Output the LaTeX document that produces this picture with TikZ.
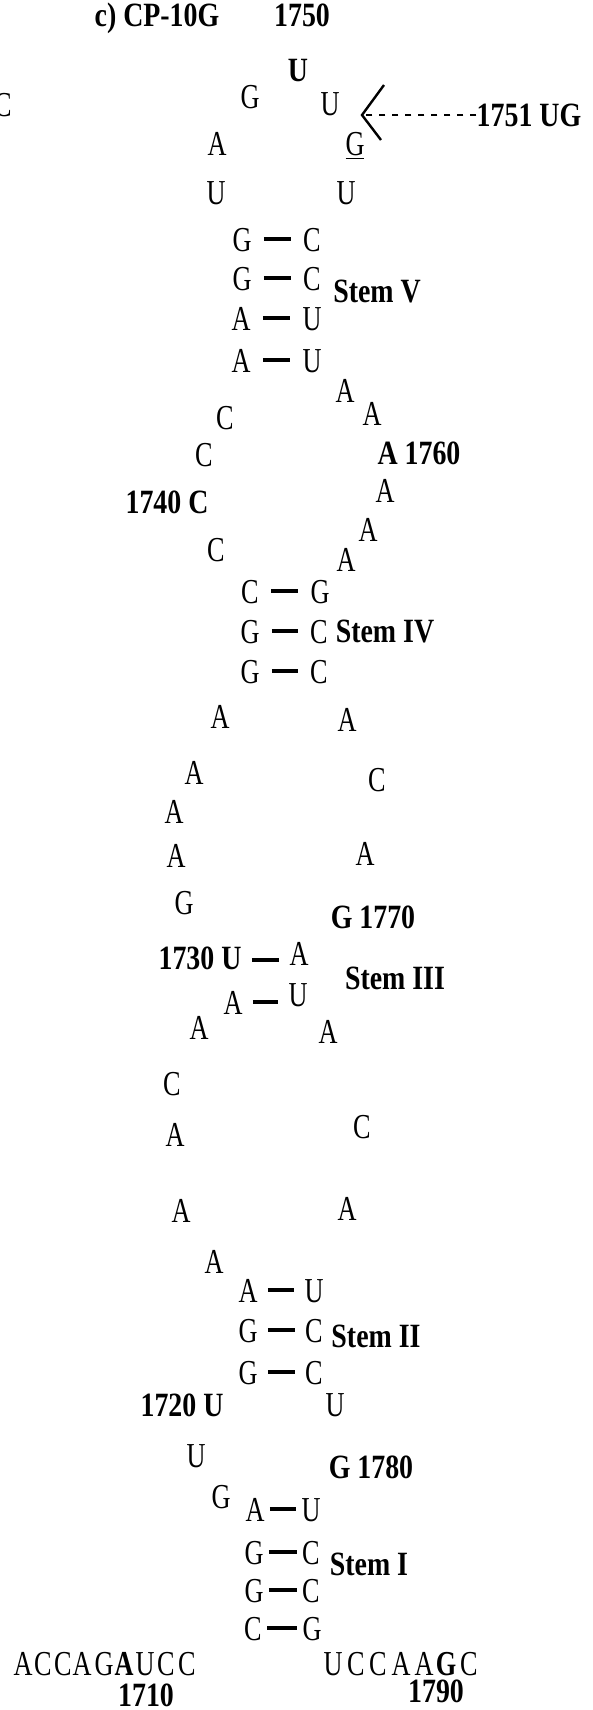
\documentclass[tikz,border=0pt]{standalone}
\usepackage{fontspec}
\setmainfont{Liberation Serif}[FakeStretch=0.75]
\newfontfamily\labfont{Liberation Serif}[FakeStretch=0.82]
\usetikzlibrary{positioning}
\tikzset{nt/.style={inner sep=0pt, text height=12pt, text depth=0pt,
    font=\fontsize{17.5}{20}\selectfont}}
\tikzset{lbl/.style={inner sep=0pt, text height=11.5pt, text depth=0pt,
    font=\labfont\bfseries\fontsize{17}{20}\selectfont}}
\tikzset{pair/.style={line width=2.4pt, shorten <=#1, shorten >=#1}}
\tikzset{chev/.style={line width=1.2pt}}
\tikzset{dashline/.style={line width=1.4pt, dash pattern=on 3pt off 3.5pt}}

\begin{document}
\begin{tikzpicture}[x=0.5pt, y=-0.5pt]
  \useasboundingbox (0,0) rectangle (593,1710);
  % title and loop of stem V
  \node[lbl] (title) at (157,15) {c) CP-10G};
  \node[lbl] (n1750) at (302,15) {1750};
  \node[lbl] (u1750) at (298,70) {U};
  \node[nt] (lp1) at (250,96) {G};
  \node[nt] (lp2) at (330,103) {U};
  \node[nt] (cut) at (3,104) {C};
  \node[nt] (lp3) at (217,143) {A};
  \node[nt] (g1751) at (355,143) {\underline{G}};
  \node[nt] (lp4) at (216,192) {U};
  \node[nt] (lp5) at (346,192) {U};
  \node[lbl] (n1751) at (529,115) {1751 UG};
  \coordinate (tip) at (362,115);
  \draw[dashline] (n1751.west) -- (tip);
  \draw[chev] (384,85) -- (tip) -- (381,140);
  % stem V
  \node[nt] (v1a) at (242,239) {G};  \node[nt] (v1b) at (312,239) {C};
  \node[nt] (v2a) at (242,278) {G};  \node[nt] (v2b) at (312,278) {C};
  \node[nt] (v3a) at (241,318) {A};  \node[nt] (v3b) at (312,318) {U};
  \node[nt] (v4a) at (241,360) {A};  \node[nt] (v4b) at (312,360) {U};
  \node[lbl] (stemV) at (377,291) {Stem V};
  % internal loop between stem IV and V
  \node[nt] (r1) at (345,390) {A};
  \node[nt] (r2) at (372,413) {A};
  \node[lbl] (n1760) at (419,453) {A 1760};
  \node[nt] (r3) at (385,490) {A};
  \node[nt] (r4) at (368,529) {A};
  \node[nt] (r5) at (346,559) {A};
  \node[nt] (l1) at (225,417) {C};
  \node[nt] (l2) at (204,454) {C};
  \node[lbl] (n1740) at (167,502) {1740 C};
  \node[nt] (l3) at (216,549) {C};
  % stem IV
  \node[nt] (iv1a) at (250,591) {C};  \node[nt] (iv1b) at (320,591) {G};
  \node[nt] (iv2a) at (250,631) {G};  \node[nt] (iv2b) at (319,631) {C};
  \node[nt] (iv3a) at (250,671) {G};  \node[nt] (iv3b) at (319,671) {C};
  \node[lbl] (stemIV) at (385,631) {Stem IV};
  % internal loop between stem III and IV
  \node[nt] (l4) at (220,716) {A};
  \node[nt] (l5) at (194,772) {A};
  \node[nt] (l6) at (174,811) {A};
  \node[nt] (l7) at (176,855) {A};
  \node[nt] (l8) at (184,902) {G};
  \node[nt] (r6) at (347,719) {A};
  \node[nt] (r7) at (377,779) {C};
  \node[nt] (r8) at (365,853) {A};
  \node[lbl] (n1770) at (373,917) {G 1770};
  % stem III
  \node[lbl] (n1730) at (200,958) {1730 U};  \node[nt] (iii1b) at (299,953) {A};
  \node[nt] (iii2a) at (233,1002) {A};        \node[nt] (iii2b) at (298,994) {U};
  \node[lbl] (stemIII) at (395,978) {Stem III};
  % internal loop between stem II and III
  \node[nt] (l9) at (199,1027) {A};
  \node[nt] (l10) at (172,1083) {C};
  \node[nt] (l11) at (175,1134) {A};
  \node[nt] (l12) at (181,1210) {A};
  \node[nt] (l13) at (214,1261) {A};
  \node[nt] (r9) at (328,1031) {A};
  \node[nt] (r10) at (362,1126) {C};
  \node[nt] (r11) at (347,1208) {A};
  % stem II
  \node[nt] (ii1a) at (248,1290) {A};  \node[nt] (ii1b) at (314,1290) {U};
  \node[nt] (ii2a) at (248,1330) {G};  \node[nt] (ii2b) at (314,1330) {C};
  \node[nt] (ii3a) at (248,1372) {G};  \node[nt] (ii3b) at (314,1372) {C};
  \node[lbl] (stemII) at (376,1336) {Stem II};
  % internal loop between stem I and II
  \node[lbl] (n1720) at (182,1405) {1720 U};
  \node[nt] (l14) at (196,1455) {U};
  \node[nt] (l15) at (221,1496) {G};
  \node[nt] (r12) at (335,1404) {U};
  \node[lbl] (n1780) at (371,1467) {G 1780};
  % stem I
  \node[nt] (i1a) at (255,1509) {A};  \node[nt] (i1b) at (311,1509) {U};
  \node[nt] (i2a) at (254,1552) {G};  \node[nt] (i2b) at (311,1552) {C};
  \node[nt] (i3a) at (254,1590) {G};  \node[nt] (i3b) at (311,1590) {C};
  \node[nt] (i4a) at (253,1628) {C};  \node[nt] (i4b) at (312,1628) {G};
  \node[lbl] (stemI) at (369,1564) {Stem I};
  % single-stranded ends
  \foreach \ch/\x [count=\i] in {A/23,C/43,C/63,A/82,G/104,\textbf{A}/124,U/145,C/166,C/187}
    \node[nt] (five\i) at (\x,1663) {\ch};
  \foreach \ch/\x [count=\i] in {U/333,C/356,C/378,A/401,A/424,\textbf{G}/446,C/469}
    \node[nt] (three\i) at (\x,1663) {\ch};
  \node[lbl] (n1710) at (146,1695) {1710};
  \node[lbl] (n1790) at (436,1691) {1790};
  % base pairs
  \foreach \a/\b in {v1a/v1b,v2a/v2b,v3a/v3b,v4a/v4b,iv1a/iv1b,iv2a/iv2b,iv3a/iv3b}
    \draw[pair=6pt] (\a.east) -- (\a.east -| \b.west);
  \foreach \a/\b in {ii1a/ii1b,ii2a/ii2b,ii3a/ii3b}
    \draw[pair=5pt] (\a.east) -- (\a.east -| \b.west);
  \foreach \a/\b in {i1a/i1b,i2a/i2b,i3a/i3b,i4a/i4b}
    \draw[pair=2.5pt] (\a.east) -- (\a.east -| \b.west);
  \draw[pair=5pt] ([yshift=-1pt]n1730.east) -- ([yshift=-1pt]n1730.east -| iii1b.west);
  \draw[pair=5pt] (iii2a.east) -- (iii2a.east -| iii2b.west);
\end{tikzpicture}
\end{document}
